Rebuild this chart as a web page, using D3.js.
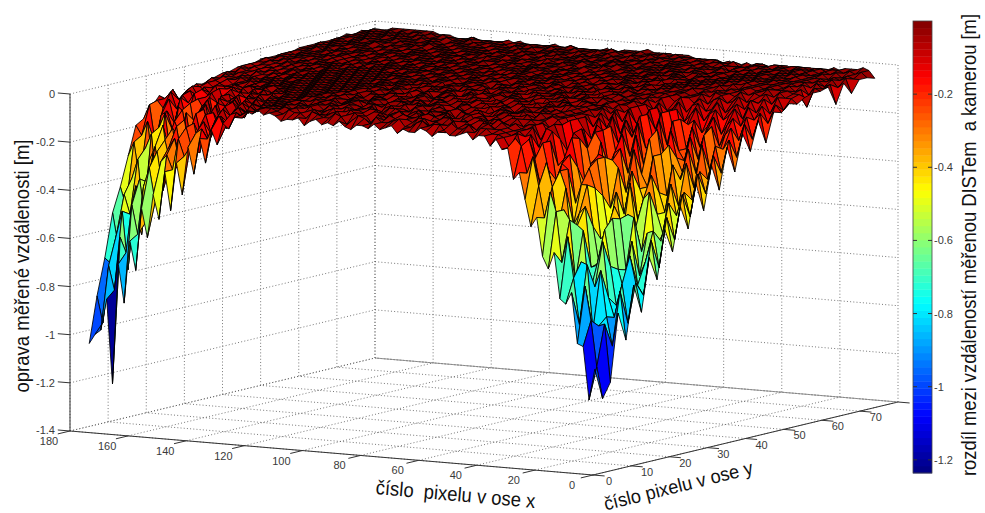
<!DOCTYPE html>
<html><head><meta charset="utf-8">
<script src="https://cdn.jsdelivr.net/npm/d3@7/dist/d3.min.js"></script>
<style>html,body{margin:0;padding:0;background:#fff}svg{display:block}text{font-family:"Liberation Sans",Arial,sans-serif}</style>
</head><body><svg id="c" width="985" height="513"></svg>
<script>
const xTicks=[0,20,40,60,80,100,120,140,160,180];
const yTicks=[0,10,20,30,40,50,60,70,80];
const yTickLabels=["0","10","20","30","40","50","60","70",""];
const zTicks=[-1.4,-1.2,-1,-0.8,-0.6,-0.4,-0.2,0];
const zTickLabels=["-1.4","-1.2","-1","-0.8","-0.6","-0.4","-0.2","0"];
const barTicks=[-1.2,-1,-0.8,-0.6,-0.4,-0.2];
const barTickLabels=["-1.2","-1","-0.8","-0.6","-0.4","-0.2"];
const xLabel="číslo  pixelu v ose x", yLabel="číslo pixelu v ose y";
const zLabel="oprava měřené vzdálenosti [m]", barLabel="rozdíl mezi vzdáleností měřenou DISTem  a kamerou [m]";
// depth below zero in cm, estimated region by region. One row per y sample.
// pit corner: x = 2..40
const pitDepthCm=[
[97,110,88,87,66,71,69,50,57,52,36,40,29,18,21,8,9,5,8,4],
[110,97,78,64,80,61,44,55,34,26,37,24,12,19,8,5,9,5,4,4],
[104,80,81,83,56,55,63,38,34,42,25,15,25,14,6,13,4,5,4,3],
[76,90,78,59,66,70,43,41,49,26,19,30,19,8,16,5,6,4,4,3],
[88,68,79,71,48,58,59,34,37,42,19,17,24,8,10,11,3,4,4,2],
[66,82,66,75,59,44,58,43,26,26,34,14,16,19,5,4,9,3,3,4],
[78,66,55,70,61,40,46,49,28,20,31,20,8,18,9,3,7,3,4,2],
[56,72,68,50,62,41,36,48,32,17,19,28,9,7,15,4,4,6,3,3],
[66,50,59,65,41,40,50,31,38,17,16,26,14,6,13,3,6,3,2,3],
[46,62,47,48,56,46,28,41,22,19,30,12,8,16,7,3,7,3,3,2],
[56,42,52,55,32,35,44,24,33,15,17,23,8,6,12,3,5,3,3,2],
[38,52,37,50,42,26,39,32,16,26,10,19,7,13,4,8,3,3,3,2],
[48,34,43,30,42,34,19,32,27,11,20,7,15,4,9,3,5,2,3,2],
[30,44,34,40,23,36,19,28,13,24,7,13,6,12,3,7,2,3,3,2],
[42,27,38,23,30,34,16,26,10,17,18,5,13,3,8,3,5,2,3,2],
[24,36,27,34,18,28,22,11,23,7,16,5,11,9,3,5,2,4,2,3],
[35,21,31,17,29,14,24,20,8,18,5,12,4,8,3,5,3,3,2,2],
[18,29,18,28,14,24,11,20,8,15,5,11,4,8,3,5,2,3,2,3],
[29,16,20,24,11,14,20,9,11,16,5,8,10,3,6,2,4,2,3,2],
[14,24,12,15,20,8,12,15,5,8,11,3,6,7,2,4,2,3,2,2],
[22,11,18,9,12,16,6,8,11,4,5,8,2,4,2,3,3,2,2,2],
[10,18,9,13,6,9,11,4,7,8,3,5,3,3,2,3,2,2,2,1],
[20,8,11,6,11,5,7,9,3,4,6,2,3,3,2,2,2,2,1,2],
[8,13,6,9,4,8,3,5,6,3,2,4,2,3,1,2,2,1,2,1],
[9,6,10,4,6,5,6,2,4,3,3,2,3,2,2,2,1,2,1,2],
[6,9,4,7,3,4,3,4,2,3,2,3,1,2,2,1,2,1,2,1],
[7,5,5,3,5,2,3,3,2,2,3,1,2,2,1,2,1,2,1,2],
[5,4,4,3,3,3,2,3,2,2,1,2,2,1,2,1,2,1,2,1],
[4,10,3,4,2,3,2,2,2,2,1,2,1,2,1,2,1,2,2,1],
[4,3,6,2,3,2,2,2,1,2,2,1,2,1,2,1,2,2,1,2],
[3,4,2,4,2,2,2,2,2,1,2,2,1,2,1,2,1,2,1,1],
[11,3,4,2,3,2,2,1,2,2,1,2,1,1,2,1,2,1,1,2],
[3,5,2,3,2,2,2,1,2,1,2,1,2,1,1,2,1,1,2,1],
[8,2,3,2,3,1,2,2,1,2,1,2,1,1,2,1,1,2,1,1],
[3,3,2,3,1,2,1,2,1,2,1,1,2,1,1,2,1,1,1,2],
[3,1,2,1,2,1,1,2,1,1,2,1,1,1,2,1,1,2,1,1],
[4,1,0,1,1,1,2,1,2,2,2,2,2,2,3,2,2,3,3,3]
];
// flat plateau: x = 42..118
const flatDepthCm=[
[4,6,3,4,5,5,3,4,6,4, 3,5,5,4,6,3,4,5,3,5, 4,4,6,5,3,5,4,5,3,4, 6,3,4,4,5,3,2,3,1],
[2,2,4,1,3,3,1,5,2,2, 3,1,2,4,4,1,2,3,3,1, 4,2,1,3,5,2,1,3,3,2, 1,4,2,2,1,3,2,1,1],
[3,1,1,4,2,2,5,1,3,3, 2,4,1,1,3,2,4,2,1,3, 1,5,2,3,1,2,4,1,2,3, 3,1,2,4,1,2,1,2,1],
[1,4,3,1,1,5,2,2,4,1, 1,3,3,5,1,2,2,1,4,2, 3,1,1,4,2,3,1,2,4,1, 2,3,3,1,2,1,3,1,2],
[3,2,1,3,4,1,1,3,2,5, 2,1,3,2,1,4,1,3,3,1, 2,3,4,1,1,3,2,4,1,2, 2,1,3,1,3,2,1,2,1],
[1,1,4,2,2,3,1,4,1,1, 3,4,1,2,3,1,3,1,2,4, 2,1,1,3,4,1,2,2,3,1, 4,2,1,2,1,2,3,1,1],
[2,4,1,1,3,2,5,2,1,3, 2,1,4,1,2,2,1,4,2,1, 3,2,3,1,2,5,1,1,3,2, 1,2,3,1,1,2,1,2,2],
[3,1,2,4,1,1,2,3,4,1, 1,3,2,1,5,2,1,2,3,1, 1,4,1,2,3,1,3,2,1,4, 1,1,2,3,1,2,2,1,1],
[1,3,3,1,2,4,1,1,2,3, 4,1,1,3,1,3,4,1,1,2, 3,1,2,4,1,1,2,3,1,1, 3,2,1,2,2,1,1,2,1],
[2,1,4,2,1,2,3,2,1,4, 1,2,3,2,1,1,3,2,4,1, 2,3,1,1,3,2,1,4,2,1, 1,3,2,1,3,1,2,1,1],
[1,2,1,3,3,1,1,4,2,1, 2,3,1,1,4,2,1,1,3,2, 1,1,4,2,1,3,2,1,1,3, 2,1,1,3,1,2,1,1,2],
[3,4,1,1,2,2,4,1,1,3, 2,1,2,4,1,1,2,3,1,1, 3,2,1,3,1,1,2,2,4,1, 1,2,2,1,1,3,1,2,1],
[1,1,2,4,1,3,1,2,3,1, 1,4,2,1,2,3,1,1,2,4, 1,1,2,2,3,1,1,4,1,2, 2,1,3,1,2,1,1,1,2],
[2,3,1,1,3,1,2,4,1,2, 2,1,1,3,3,1,2,4,1,1, 2,3,1,1,2,4,1,2,1,2, 3,1,1,2,1,1,2,1,1],
[1,1,4,2,1,2,3,1,1,3, 3,2,1,1,2,1,3,2,1,3, 1,2,4,1,1,2,2,1,3,1, 1,2,1,1,3,1,1,2,1],
[3,2,1,2,4,1,1,2,3,1, 1,2,4,1,1,3,1,2,2,1, 3,1,1,2,3,1,1,2,1,1, 2,3,1,1,1,2,1,1,2],
[1,3,1,1,2,2,4,1,1,2, 3,1,1,2,3,1,2,1,1,4, 1,2,2,1,1,3,1,1,2,2, 1,1,2,2,1,1,2,1,1],
[2,1,2,4,1,1,2,3,1,1, 2,2,3,1,1,2,1,3,1,1, 2,3,1,1,2,1,2,1,3,1, 1,2,1,1,2,1,1,1,2],
[1,1,3,1,2,3,1,1,2,4, 1,1,2,2,1,3,1,1,2,2, 1,1,3,1,2,1,1,2,2,1, 1,1,2,1,1,2,1,1,1],
[3,2,1,1,3,1,2,2,1,1, 3,1,2,1,2,1,1,3,1,1, 2,2,1,1,2,2,1,1,3,1, 2,1,1,1,2,1,1,2,1],
[2,1,2,3,1,1,3,1,2,1, 1,2,2,1,1,3,1,1,2,1, 1,3,1,2,1,1,2,1,1,2, 1,1,2,1,1,1,2,1,1],
[1,3,1,1,2,2,1,3,1,1, 2,1,1,3,1,1,2,2,1,1, 2,1,1,2,1,2,1,1,2,1, 1,2,1,1,1,2,1,1,1],
[2,1,3,2,1,1,3,1,1,2, 2,1,2,1,1,3,1,1,2,1, 1,2,1,1,2,1,1,1,2,2, 1,1,1,2,1,1,1,1,2],
[3,1,1,2,3,1,1,2,2,1, 1,3,1,1,2,1,2,1,1,2, 1,1,2,1,1,1,2,2,1,1, 2,1,1,1,1,2,1,1,1],
[1,2,3,1,1,2,1,1,3,1, 2,1,1,2,1,1,2,1,2,1, 1,1,2,1,1,2,1,1,1,2, 1,1,1,2,1,1,1,2,1],
[2,3,1,1,2,1,3,1,1,2, 1,1,2,1,1,2,1,1,1,2, 1,2,1,1,0,1,2,1,1,1, 1,2,1,1,1,1,0,1,1],
[3,1,1,3,1,2,1,2,1,1, 2,1,1,1,2,1,1,2,1,1, 1,1,2,1,1,1,1,2,1,0, 1,1,1,2,0,1,1,1,2],
[2,2,1,1,3,1,1,1,2,2, 1,1,2,1,1,1,2,1,0,1, 1,2,1,1,1,0,1,1,2,1, 1,1,0,1,1,1,2,1,1],
[1,3,2,1,1,2,2,1,1,1, 2,1,1,1,2,1,0,1,1,1, 2,1,1,0,1,1,1,2,1,1, 0,1,1,2,1,1,0,1,1],
[2,1,1,3,1,1,1,2,2,1, 1,1,2,1,1,0,1,1,2,1, 1,0,1,1,1,2,1,0,1,1, 1,2,1,1,0,1,1,1,0],
[3,2,1,1,2,2,1,1,1,2, 1,1,1,2,1,1,1,0,1,2, 1,1,0,1,1,1,1,1,2,0, 1,1,0,1,1,2,1,0,1],
[2,2,3,1,1,1,2,1,1,1, 2,1,0,1,1,2,1,1,0,1, 1,1,2,1,0,1,1,1,0,1, 1,2,1,1,0,1,1,1,1],
[3,1,2,2,1,2,1,1,1,1, 1,2,1,1,0,1,1,1,2,1, 0,1,1,1,1,0,1,2,1,1, 0,1,1,1,1,1,0,1,1],
[2,3,1,2,2,1,1,2,1,1, 1,1,1,0,1,1,2,1,0,1, 1,1,0,1,1,2,1,0,1,1, 1,0,1,1,2,0,1,1,0],
[3,2,2,2,1,1,2,1,1,2, 1,0,1,1,1,1,0,1,1,1, 2,1,0,1,1,0,1,1,1,0, 1,1,1,0,1,1,1,0,1],
[2,3,3,1,2,2,1,1,1,1, 1,1,1,0,1,0,1,1,1,0, 1,1,1,1,0,1,1,1,1,1, 1,0,1,1,1,1,1,1,1],
[3,3,2,3,3,2,3,2,2,3, 2,2,1,1,2,1,1,1,1,0, 1,1,1,1,2,2,1,2,2,2, 2,2,2,2,2,1,2,2,2]
];
// left tail corner: x = 120..176
const tailDepthCm=[
[3,2,4,5,10,8,17,11,25,15,30,19,39,26,46,30,50,40,58,46,72,60,86,70,120,85,98,100,104],
[2,3,3,6,4,5,11,6,10,16,12,14,20,24,17,30,24,27,44,30,38,58,46,66,60,82,72,96,85],
[3,2,4,2,7,3,5,12,7,9,18,10,14,22,13,29,18,22,40,24,30,54,36,48,74,50,60,72,70],
[2,3,2,5,2,6,4,5,11,5,9,16,8,24,12,18,28,14,30,20,46,26,38,60,40,52,44,66,52],
[2,2,3,2,4,3,7,3,6,9,5,15,8,11,20,9,24,12,32,16,22,42,24,30,54,30,38,50,42],
[3,2,2,3,2,5,2,6,3,8,4,7,14,6,16,8,12,26,10,20,14,34,16,44,20,26,40,24,30],
[2,3,2,2,3,2,4,2,5,3,8,4,6,13,6,20,7,10,14,24,10,18,30,12,18,36,16,22,18],
[1,2,3,2,2,3,2,5,2,4,3,9,4,5,8,5,15,6,9,22,8,12,10,20,12,14,26,10,16],
[2,1,2,3,2,2,4,2,3,3,5,3,12,4,6,7,5,18,6,11,7,9,16,7,18,8,12,9,12],
[2,2,1,2,3,2,2,3,2,5,2,4,3,6,4,13,5,6,9,5,7,15,6,10,7,13,6,9,8],
[1,2,2,1,2,3,2,2,3,2,4,2,6,3,5,3,8,4,12,4,6,7,5,12,6,7,10,6,13],
[2,1,2,2,1,2,3,2,2,3,3,2,3,4,7,3,5,6,4,5,10,4,7,5,9,5,7,12,10],
[1,2,1,2,2,1,2,3,2,2,3,3,4,3,4,5,4,5,6,4,7,5,7,6,8,6,9,8,12],
[2,1,2,1,2,2,1,2,3,2,2,3,3,4,3,4,5,4,5,6,5,6,6,5,7,5,8,6,9],
[1,2,1,2,1,2,2,1,2,3,2,2,3,3,4,3,4,4,5,4,5,5,6,4,6,5,6,7,8],
[2,1,2,1,2,1,2,2,1,2,3,2,3,2,3,4,3,4,4,5,4,5,4,5,5,4,6,5,7],
[1,2,1,2,1,2,1,2,2,1,2,3,2,3,2,3,4,3,4,4,5,4,5,4,5,5,4,6,6],
[2,1,2,1,2,1,2,1,2,2,1,2,3,2,3,2,3,3,4,3,4,4,3,5,4,4,5,4,5],
[1,2,1,2,1,2,1,2,1,2,2,1,2,3,2,2,3,2,3,4,3,3,4,3,4,4,3,5,5],
[2,1,2,1,2,1,2,1,2,1,2,2,1,2,3,2,2,3,2,3,3,4,3,3,4,3,4,3,4],
[1,2,1,2,1,2,1,2,1,2,1,2,2,1,2,2,3,2,2,3,2,3,3,4,3,3,4,3,4],
[2,1,1,2,1,1,2,1,2,1,2,1,1,2,1,2,2,2,3,2,2,3,2,3,3,2,3,3,4],
[1,2,1,1,2,1,1,2,1,1,2,1,2,1,2,1,2,2,2,3,2,2,3,2,2,3,3,2,3],
[1,1,2,1,1,2,1,1,2,1,1,2,1,1,2,1,2,1,2,2,2,3,2,2,3,2,2,3,3],
[2,1,1,1,2,1,1,2,1,1,2,1,1,2,1,1,2,1,2,1,2,2,2,2,2,3,2,2,3],
[1,1,2,1,1,1,2,1,1,2,1,1,1,2,1,1,2,1,1,2,1,2,2,2,2,2,3,2,3],
[1,1,1,2,1,1,1,2,1,1,1,2,1,1,1,2,1,1,2,1,1,2,1,2,2,2,2,2,3],
[1,2,1,1,1,2,1,1,1,1,2,1,1,1,2,1,1,1,1,2,1,1,2,1,2,1,2,2,2],
[2,1,1,1,1,1,2,1,1,1,1,2,1,1,1,1,2,1,1,1,1,2,1,1,1,2,1,2,2],
[1,1,1,2,1,1,1,1,2,1,1,1,1,2,1,0,1,1,2,1,1,1,1,2,1,1,2,1,2],
[1,1,1,1,1,2,1,1,1,1,2,1,0,1,1,1,1,2,1,0,1,1,1,1,2,1,1,2,2],
[2,1,1,1,1,1,1,2,1,1,1,0,1,2,1,1,0,1,1,1,1,1,0,1,1,2,1,1,2],
[1,1,2,1,1,1,1,1,1,2,1,1,0,1,1,1,1,1,0,1,1,1,1,0,1,1,1,1,2],
[1,1,1,1,2,1,0,1,1,1,1,2,1,0,1,0,1,1,1,0,1,0,1,1,0,1,1,1,1],
[1,2,1,1,1,1,1,2,0,1,1,1,0,1,1,1,0,0,1,1,0,1,0,1,1,0,1,1,2],
[1,1,1,2,1,1,1,1,1,0,1,1,1,1,0,1,0,1,0,0,1,0,1,0,1,1,0,1,1],
[2,2,1,2,1,2,2,2,2,2,1,2,2,2,1,1,1,0,0,0,0,0,0,0,0,1,1,1,2]
];
const surfaceDepthCm=pitDepthCm.map((r,j)=>r.concat(flatDepthCm[j],tailDepthCm[j]));
const xSampleStart=2, xSampleStep=2, ySampleStart=2, ySampleStep=2.04;
const svg=d3.select("#c");
const xToSx=d3.scaleLinear().domain([0,180]).range([0,-523]);
const xToSy=d3.scaleLinear().domain([0,180]).range([0,-44]);
const yToSx=d3.scaleLinear().domain([0,80]).range([0,305]);
const yToSy=d3.scaleLinear().domain([0,80]).range([0,-73]);
const zToSy=d3.scaleLinear().domain([-1.4,0]).range([0,-337]);
const ox=593, oy=475;
const P=(x,y,z)=>[ox+xToSx(x)+yToSx(y), oy+xToSy(x)+yToSy(y)+zToSy(z)];
const line=d3.line();
function jetColor(t){
  const c=v=>Math.round(255*Math.max(0,Math.min(1,v)));
  const f=4*t;
  return d3.rgb(c(Math.min(f-1.5,-f+4.5)),c(Math.min(f-0.5,-f+3.5)),c(Math.min(f+0.5,-f+2.5))).formatHex();
}
const jetLevels=d3.range(64).map(k=>jetColor((k+0.5)/64));
const colorScale=d3.scaleQuantize().domain([-1.236,0]).range(jetLevels);
const grid=svg.append("g").attr("fill","none").attr("stroke","#555").attr("stroke-width",0.8).attr("stroke-dasharray","1 2.2");
const seg=(g,a,b)=>g.append("path").attr("d",line([a,b]));
zTicks.forEach(z=>{seg(grid,P(180,0,z),P(180,80,z));seg(grid,P(180,80,z),P(0,80,z));});
yTicks.forEach(y=>{seg(grid,P(180,y,-1.4),P(180,y,0));seg(grid,P(0,y,-1.4),P(180,y,-1.4));});
xTicks.forEach(x=>{seg(grid,P(x,80,-1.4),P(x,80,0));seg(grid,P(x,0,-1.4),P(x,80,-1.4));});
const axes=svg.append("g").attr("fill","none").attr("stroke","#333").attr("stroke-width",1);
seg(axes,P(180,0,-1.4),P(180,0,0));
seg(axes,P(180,0,-1.4),P(0,0,-1.4));
seg(axes,P(0,0,-1.4),P(0,80,-1.4));
seg(axes,P(180,80,-1.4),P(0,80,-1.4)).attr("stroke","#888").attr("stroke-width",0.8);
xTicks.forEach(x=>seg(axes,P(x,0,-1.4),P(x,-3.2,-1.4)));
yTicks.forEach(y=>seg(axes,P(0,y,-1.4),P(-4,y,-1.4)));
zTicks.forEach(z=>seg(axes,P(180,0,z),P(184.2,0,z)));
const lab=svg.append("g").attr("font-size",11).attr("fill","#3a3a3a");
xTicks.forEach(x=>{const p=P(x,0,-1.4);lab.append("text").attr("x",p[0]-21).attr("y",p[1]+14).attr("text-anchor","middle").text(x);});
yTicks.forEach((y,k)=>{const p=P(0,y,-1.4);lab.append("text").attr("x",p[0]+16).attr("y",p[1]+10).attr("text-anchor","middle").text(yTickLabels[k]);});
zTicks.forEach((z,k)=>{const p=P(180,0,z);lab.append("text").attr("x",55).attr("y",p[1]+(k?4:3)).attr("text-anchor","end").text(zTickLabels[k]);});
const cells=[];
const nj=surfaceDepthCm.length, ni=surfaceDepthCm[0].length;
const V=(i,j)=>P(xSampleStart+i*xSampleStep,ySampleStart+j*ySampleStep,-surfaceDepthCm[j][i]/100);
for(let i=ni-2;i>=0;i--)for(let j=nj-2;j>=0;j--)cells.push({i,j});
svg.append("g").selectAll("path").data(cells).join("path")
 .attr("d",d=>line([V(d.i,d.j),V(d.i+1,d.j),V(d.i+1,d.j+1),V(d.i,d.j+1)])+"Z")
 .attr("fill",d=>colorScale(-surfaceDepthCm[d.j][d.i]/100))
 .attr("stroke","#000").attr("stroke-width",0.85).attr("stroke-linejoin","round");
const barY=d3.scaleLinear().domain([-1.236,0]).range([473,21]);
const bar=svg.append("g");
const bandH=(473-21)/64;
bar.selectAll("rect").data(jetLevels).join("rect")
 .attr("x",913).attr("width",19).attr("y",(d,k)=>473-(k+1)*bandH).attr("height",bandH+0.4).attr("fill",d=>d);
bar.append("rect").attr("x",913).attr("y",21).attr("width",19).attr("height",452).attr("fill","none").attr("stroke","#444").attr("stroke-width",0.8);
barTicks.forEach((v,k)=>{const y=barY(v);
 bar.append("path").attr("d",line([[913,y],[917,y]])).attr("stroke","#333");
 bar.append("path").attr("d",line([[928,y],[932,y]])).attr("stroke","#333");
 bar.append("text").attr("x",934).attr("y",y+4).attr("font-size",11).attr("fill","#3a3a3a").text(barTickLabels[k]);});
const title=(t,x,y,r,fs,len)=>svg.append("text").attr("transform",`translate(${x},${y}) rotate(${r})`).attr("text-anchor","middle").attr("font-size",fs).attr("fill","#111").attr("textLength",len).attr("lengthAdjust","spacingAndGlyphs").style("white-space","pre").text(t);
title(zLabel,29,266,-90,21,253);
title(xLabel,455,501,5,20,160);
title(yLabel,680,492,-14,19,153);
title(barLabel,976,245,-90,19.5,462);
</script></body></html>
